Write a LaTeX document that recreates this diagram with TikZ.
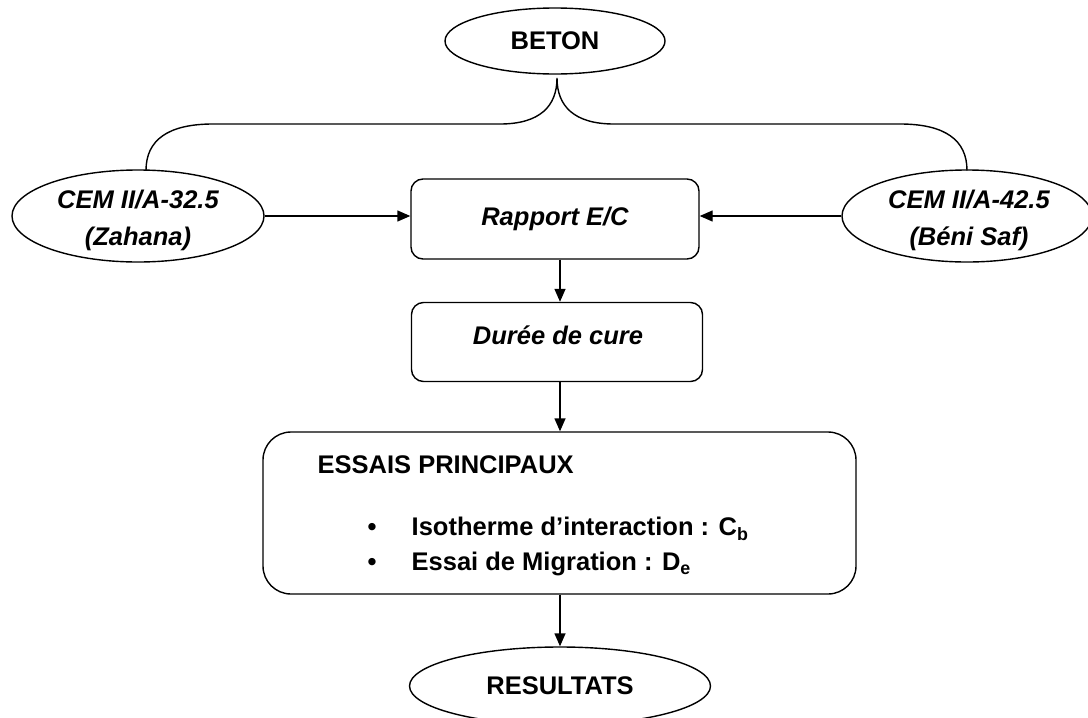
\documentclass[tikz,border=0pt]{standalone}
\usepackage{fontspec}
\setmainfont{Liberation Sans}
\usetikzlibrary{arrows.meta,shapes.geometric}
\begin{document}
\begin{tikzpicture}[x=1pt,y=-1pt, line width=1.4pt,
  lbl/.style={font=\fontsize{25.5}{34}\selectfont\bfseries, inner sep=0pt},
  ilbl/.style={font=\fontsize{25.5}{37}\selectfont\bfseries\itshape, align=center, inner sep=0pt},
  ell/.style={draw, ellipse, inner sep=0pt},
  rbox/.style={draw, rounded corners=12pt, inner sep=0pt},
  arr/.style={-{Triangle[length=13pt,width=11pt]}}]
\useasboundingbox (0,0) rectangle (1088,718);
\coordinate (ax) at (560,0);

% nodes
\node[ell, lbl, minimum width=220pt, minimum height=66pt] (beton) at (555,41) {BETON};
\node[ell, minimum width=252pt, minimum height=92pt] (left) at (138,216) {};
\node[ilbl] (leftt) at (138,220) {CEM II/A-32.5\\(Zahana)};
\node[ell, minimum width=250pt, minimum height=92pt] (right) at (967,216) {};
\node[ilbl] (rightt) at (969,220) {CEM II/A-42.5\\(Béni Saf)};
\node[rbox, ilbl, minimum width=288pt, minimum height=80pt] (rap) at (555,219) {Rapport E/C};
\node[rbox, minimum width=291pt, minimum height=79pt] (dur) at (557,342) {};
\node[ilbl] (durt) at (558,335) {Durée de cure};
\node[rbox, rounded corners=28pt, minimum width=593pt, minimum height=162pt] (ess) at (559.5,513) {};
\node[lbl, anchor=west] (esst) at (317,465) {ESSAIS PRINCIPAUX};
\node[lbl] (b1) at (372,529) {•};
\node[lbl, anchor=west] (i1) at (411,529) {Isotherme d’interaction : C\textsubscript{b}};
\node[lbl] (b2) at (372,564) {•};
\node[lbl, anchor=west] (i2) at (411,564) {Essai de Migration : D\textsubscript{e}};
\node[ell, lbl, minimum width=301pt, minimum height=78pt] (res) at (560,686) {RESULTATS};

% brace
\coordinate (bl) at (146,170.5);
\coordinate (br) at (967,170.5);
\coordinate (tip) at (557,78);
\draw (bl) .. controls (146,140) and (168,124) .. (213,124) -- (500,124)
  .. controls (540,124) and (557,106) .. (tip)
  .. controls (557,106) and (574,124) .. (614,124) -- (900,124)
  .. controls (945,124) and (967,140) .. (br);

% arrows
\draw[arr] (left.east) -- (left.east -| rap.west);
\draw[arr] (right.west) -- (right.west -| rap.east);
\draw[arr] (rap.south -| ax) -- (dur.north -| ax);
\draw[arr] (dur.south -| ax) -- (ess.north -| ax);
\draw[arr] (ess.south -| ax) -- (res.north -| ax);
\end{tikzpicture}
\end{document}
